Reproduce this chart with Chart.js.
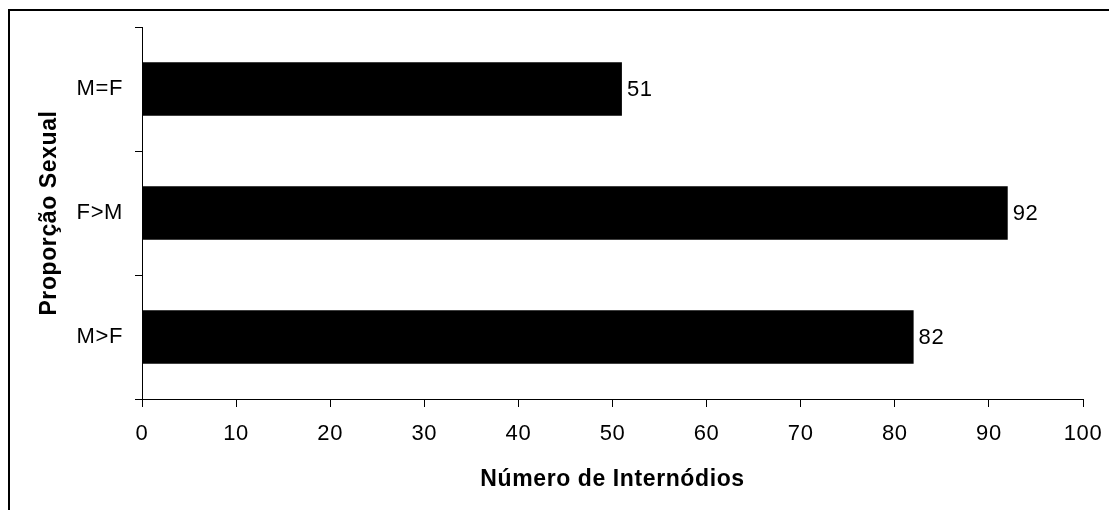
<!DOCTYPE html>
<html lang="pt">
<head>
    <meta charset="UTF-8">
    <title>Proporção Sexual x Número de Internódios</title>
    <style>
        body {
            margin: 0;
            background: #fff;
        }

        .wrap {
            position: relative;
            width: 1109px;
            height: 510px;
            overflow: hidden;
        }

        .frame {
            position: absolute;
            left: 8px;
            top: 9px;
            width: 1120px;
            height: 520px;
            border-top: 2px solid #000;
            border-left: 2px solid #000;
            pointer-events: none;
        }

        #chart {
            position: absolute;
            left: 0;
            top: 0;
        }
    </style>
</head>
<body>
    <div class="wrap">
        <canvas id="chart" width="1109" height="510"></canvas>
        <div class="frame"></div>
    </div>

    <script src="https://cdn.jsdelivr.net/npm/chart.js"></script>
    <script>
        // chart data
        const categories = ['M=F', 'F>M', 'M>F'];
        const internodes = [51, 92, 82];
        const xMin = 0;
        const xMax = 100;
        const xStep = 10;

        const xTitle = 'Número de Internódios';
        const yTitle = 'Proporção Sexual';

        const fontFamily = "'Liberation Sans', Arial, sans-serif";

        // slightly looser text, closer to the original spreadsheet look
        const textSpacing = {
            id: 'textSpacing',
            beforeDraw(chart) {
                chart.ctx.letterSpacing = '0.6px';
            }
        };

        // writes the value just past the end of each bar
        const valueLabels = {
            id: 'valueLabels',
            afterDatasetsDraw(chart) {
                const ctx = chart.ctx;
                const meta = chart.getDatasetMeta(0);
                ctx.save();
                ctx.font = '22px ' + fontFamily;
                ctx.fillStyle = '#000';
                ctx.textAlign = 'left';
                ctx.textBaseline = 'middle';
                meta.data.forEach((bar, i) => {
                    ctx.fillText(String(chart.data.datasets[0].data[i]), bar.x + 5, bar.y + 1);
                });
                ctx.restore();
            }
        };

        const ctx = document.getElementById('chart').getContext('2d');
        const chart = new Chart(ctx, {
            type: 'bar',
            data: {
                labels: categories,
                datasets: [{
                    data: internodes,
                    backgroundColor: '#000',
                    borderWidth: 0,
                    categoryPercentage: 1,
                    barPercentage: 0.43
                }]
            },
            options: {
                indexAxis: 'y',
                responsive: false,
                animation: false,
                layout: {
                    padding: { top: 27, right: 26, left: 0, bottom: 0 }
                },
                plugins: {
                    legend: { display: false },
                    tooltip: { enabled: false }
                },
                scales: {
                    x: {
                        min: xMin,
                        max: xMax,
                        afterFit: scale => {
                            scale.height = 111;
                            scale.paddingLeft = 0;
                            scale.paddingRight = 0;
                        },
                        ticks: {
                            stepSize: xStep,
                            color: '#000',
                            padding: 14,
                            maxRotation: 0,
                            font: { size: 22, family: fontFamily }
                        },
                        grid: {
                            drawOnChartArea: false,
                            color: '#000',
                            tickLength: 8
                        },
                        border: { color: '#000', width: 1 },
                        title: {
                            display: true,
                            text: xTitle,
                            color: '#000',
                            padding: { top: 0, bottom: 17 },
                            font: { size: 23, weight: 'bold', family: fontFamily }
                        }
                    },
                    y: {
                        afterFit: scale => { scale.width = 142; },
                        ticks: {
                            color: '#000',
                            padding: 12,
                            font: { size: 22, family: fontFamily }
                        },
                        grid: {
                            drawOnChartArea: false,
                            color: '#000',
                            tickLength: 7
                        },
                        border: { color: '#000', width: 1 },
                        title: {
                            display: true,
                            text: yTitle,
                            color: '#000',
                            padding: { top: 36, bottom: 0 },
                            font: { size: 23, weight: 'bold', family: fontFamily }
                        }
                    }
                }
            },
            plugins: [textSpacing, valueLabels]
        });
    </script>
</body>
</html>
